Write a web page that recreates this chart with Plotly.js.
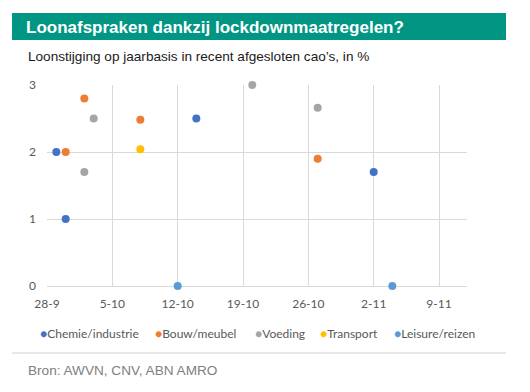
<!DOCTYPE html>
<html>
<head>
<meta charset="utf-8">
<script src="https://cdn.plot.ly/plotly-3.0.1.min.js"></script>
<style>html,body{margin:0;padding:0;background:#fff;}#chart{width:530px;height:392px;}</style>
</head>
<body>
<div id="chart"></div>
<script>
const seriesNames = ['Chemie/industrie', 'Bouw/meubel', 'Voeding', 'Transport', 'Leisure/reizen'];
const seriesColors = ['#4472C4', '#ED7D31', '#A5A5A5', '#FFC000', '#5B9BD5'];

const chemieDates = ['2020-09-29', '2020-09-30', '2020-10-14', '2020-11-02'];
const chemieValues = [2.0, 1.0, 2.5, 1.7];
const bouwDates = ['2020-09-30', '2020-10-02', '2020-10-08', '2020-10-27'];
const bouwValues = [2.0, 2.8, 2.48, 1.9];
const voedingDates = ['2020-10-02', '2020-10-03', '2020-10-20', '2020-10-27'];
const voedingValues = [1.7, 2.5, 3.0, 2.66];
const transportDates = ['2020-10-08'];
const transportValues = [2.04];
const leisureDates = ['2020-10-12', '2020-11-04'];
const leisureValues = [0, 0];

const allDates = [chemieDates, bouwDates, voedingDates, transportDates, leisureDates];
const allValues = [chemieValues, bouwValues, voedingValues, transportValues, leisureValues];

const titleText = 'Loonafspraken dankzij lockdownmaatregelen?';
const subtitleText = 'Loonstijging op jaarbasis in recent afgesloten cao\u2019s, in %';
const sourceText = 'Bron: AWVN, CNV, ABN AMRO';

const traces = seriesNames.map((name, i) => ({
  type: 'scatter', mode: 'markers', name: name,
  x: allDates[i], y: allValues[i],
  marker: {color: seriesColors[i], size: 8},
  cliponaxis: false, showlegend: false, hoverinfo: 'skip'
}));

// paper coordinate helpers (plot area: x 47..467, y 85..286)
const px = v => (v - 47) / 420;
const py = v => (286 - v) / 201;

const legendX = [38, 153, 253, 318, 392];
const annotations = seriesNames.map((name, i) => ({
  xref: 'paper', yref: 'paper', x: px(legendX[i]), y: py(333),
  xanchor: 'left', yanchor: 'middle', showarrow: false,
  text: '<span style="color:' + seriesColors[i] + '">\u25CF</span>' + name,
  font: {family: 'Lato, "Open Sans", sans-serif', size: 12, color: '#595959'}
}));
annotations.push({
  xref: 'paper', yref: 'paper', x: px(26), y: py(57), xanchor: 'left', yanchor: 'middle',
  showarrow: false, text: subtitleText,
  font: {family: '"Liberation Sans", Arial, sans-serif', size: 13.6, color: '#1a1a1a'}
});
annotations.push({
  xref: 'paper', yref: 'paper', x: px(26), y: py(370), xanchor: 'left', yanchor: 'middle',
  showarrow: false, text: sourceText,
  font: {family: '"Liberation Sans", Arial, sans-serif', size: 13.6, color: '#808080'}
});

const layout = {
  width: 530, height: 392,
  margin: {l: 47, r: 63, t: 85, b: 106},
  paper_bgcolor: '#fff', plot_bgcolor: '#fff',
  title: {
    text: '<b>' + titleText + '</b>',
    xref: 'container', yref: 'container', x: 26 / 530, y: 1 - 27 / 392,
    xanchor: 'left', yanchor: 'middle',
    font: {family: '"Liberation Sans", Arial, sans-serif', size: 17, color: '#ffffff'}
  },
  xaxis: {
    type: 'date', range: ['2020-09-28', '2020-11-12'],
    tick0: '2020-09-28', dtick: 7 * 24 * 3600 * 1000, tickformat: '%-d-%-m',
    showgrid: true, gridcolor: '#D9D9D9', gridwidth: 1,
    showline: false, zeroline: false, ticks: '', ticklabelstandoff: 9,
    tickfont: {family: 'Lato, "Open Sans", sans-serif', size: 12, color: '#595959'},
    fixedrange: true
  },
  yaxis: {
    range: [0, 3], dtick: 1, showgrid: true, gridcolor: '#D9D9D9', gridwidth: 1,
    zeroline: true, zerolinecolor: '#D9D9D9', zerolinewidth: 1,
    showline: false, ticks: '', ticklabelstandoff: 10,
    tickfont: {family: 'Lato, "Open Sans", sans-serif', size: 12, color: '#595959'},
    fixedrange: true
  },
  shapes: [
    {type: 'rect', xref: 'paper', yref: 'paper', x0: px(12), x1: px(506), y0: py(40), y1: py(13),
     fillcolor: '#009683', line: {width: 0}, layer: 'below'},
    {type: 'line', xref: 'paper', yref: 'paper', x0: px(12), x1: px(506), y0: py(353), y1: py(353),
     line: {color: '#D0D0D0', width: 1}}
  ],
  annotations: annotations,
  showlegend: false
};

Plotly.newPlot('chart', traces, layout, {staticPlot: true, displayModeBar: false});
</script>
</body>
</html>
